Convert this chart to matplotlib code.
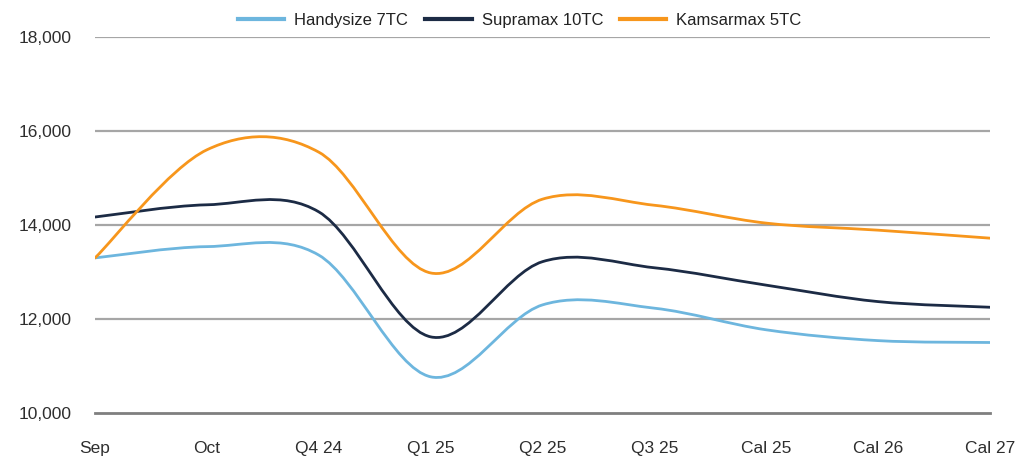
import matplotlib.pyplot as plt
from matplotlib.path import Path
from matplotlib.patches import PathPatch
from matplotlib.lines import Line2D

plt.rcParams['font.family'] = ['Liberation Sans', 'DejaVu Sans']

# categories and forward values
labels = ['Sep', 'Oct', 'Q4 24', 'Q1 25', 'Q2 25', 'Q3 25', 'Cal 25', 'Cal 26', 'Cal 27']
handysize = [13300, 13540, 13360, 10770, 12300, 12230, 11770, 11540, 11500]
supramax = [14170, 14430, 14280, 11620, 13220, 13090, 12720, 12370, 12250]
kamsarmax = [13300, 15600, 15550, 12980, 14550, 14420, 14040, 13890, 13720]

names = ['Handysize 7TC', 'Supramax 10TC', 'Kamsarmax 5TC']
colors = ['#6db6de', '#1c2b45', '#f7961c']


def smooth_path(xs, ys):
    # Excel-like smoothed line: Catmull-Rom as cubic Bezier
    pts = list(zip(xs, ys))
    n = len(pts)
    verts = [pts[0]]
    codes = [Path.MOVETO]
    for i in range(n - 1):
        p0 = pts[max(i - 1, 0)]
        p1 = pts[i]
        p2 = pts[i + 1]
        p3 = pts[min(i + 2, n - 1)]
        c1 = (p1[0] + (p2[0] - p0[0]) / 6, p1[1] + (p2[1] - p0[1]) / 6)
        c2 = (p2[0] - (p3[0] - p1[0]) / 6, p2[1] - (p3[1] - p1[1]) / 6)
        verts += [c1, c2, p2]
        codes += [Path.CURVE4] * 3
    return Path(verts, codes)


fig = plt.figure(figsize=(10.23, 4.57), dpi=100)
ax = fig.add_axes([0.0929, 0.0963, 0.8748, 0.8227])

x = list(range(len(labels)))
for vals, c in zip([handysize, supramax, kamsarmax], colors):
    ax.add_patch(PathPatch(smooth_path(x, vals), fill=False, edgecolor=c,
                           linewidth=2.0, capstyle='round', zorder=3))

ax.set_xlim(0, len(labels) - 1)
ax.set_ylim(10000, 18000)
ax.set_yticks([10000, 12000, 14000, 16000, 18000])
ax.set_yticklabels([f'{v:,}' for v in [10000, 12000, 14000, 16000, 18000]])
ax.set_xticks(x)
ax.set_xticklabels(labels)

for v in [12000, 14000, 16000, 18000]:
    ax.axhline(v, color='#a6a6a6', linewidth=1.6, zorder=1)
ax.axhline(10000, color='#7f7f7f', linewidth=2.0, zorder=2, clip_on=False)

for s in ax.spines.values():
    s.set_visible(False)
ax.tick_params(axis='both', length=0, labelsize=12.5, colors='#2e2e2e')
ax.tick_params(axis='y', pad=17)
ax.tick_params(axis='x', pad=20)
for t in ax.get_xticklabels() + ax.get_yticklabels():
    t.set_fontweight('medium')

handles = [Line2D([], [], color=c, linewidth=3) for c in colors]
fig.legend(handles, names, loc='center', bbox_to_anchor=(0.508, 0.956), ncol=3,
           frameon=False, fontsize=12, handlelength=2.8, columnspacing=1.0,
           handletextpad=0.6, labelcolor='#222222')

fig.savefig('out.png', dpi=100)
